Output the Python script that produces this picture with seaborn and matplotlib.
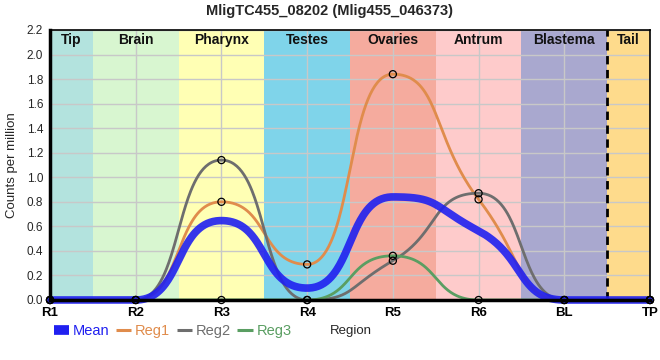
import numpy as np
import pandas as pd
import matplotlib
matplotlib.use("Agg")
import matplotlib.pyplot as plt
import seaborn as sns
from matplotlib.lines import Line2D

regions = ["R1", "R2", "R3", "R4", "R5", "R6", "BL", "TP"]
reg1 = [0.0, 0.0, 0.80, 0.29, 1.84, 0.82, 0.0, 0.0]
reg2 = [0.0, 0.0, 1.14, 0.0, 0.32, 0.87, 0.0, 0.0]
reg3 = [0.0, 0.0, 0.0, 0.0, 0.36, 0.0, 0.0, 0.0]
mean = [0.0, 0.0, 0.647, 0.097, 0.84, 0.563, 0.0, 0.0]

bands = ["Tip", "Brain", "Pharynx", "Testes", "Ovaries", "Antrum", "Blastema", "Tail"]
band_colors = ["#b3e3de", "#d8f6d0", "#ffffb4", "#7fd4ea", "#f5ab9e", "#fecbcb", "#a9a8cf", "#fedb8c"]
band_edges = [0, 0.5, 1.5, 2.5, 3.5, 4.5, 5.5, 6.5, 7]

series_names = ["Mean", "Reg1", "Reg2", "Reg3"]
series_colors = {"Mean": "#2020f0", "Reg1": "#e08c4c", "Reg2": "#6e6e6e", "Reg3": "#5a9e62"}


def tangents(x, y):
    x = np.asarray(x, float); y = np.asarray(y, float)
    h = np.diff(x); d = np.diff(y) / h
    n = len(x); m = np.zeros(n)
    for k in range(1, n - 1):
        if d[k - 1] * d[k] > 0:
            m[k] = 2 / (1 / d[k - 1] + 1 / d[k])
    return m


def smooth_curve(x, y, k=0.55, n=80):
    """Bezier path through the points, handles along monotone tangents."""
    x = np.asarray(x, float); y = np.asarray(y, float)
    m = tangents(x, y)
    t = np.linspace(0, 1, n)
    xs, ys = [], []
    for i in range(len(x) - 1):
        dx = x[i + 1] - x[i]
        p0 = (x[i], y[i]); p3 = (x[i + 1], y[i + 1])
        p1 = (x[i] + k * dx, y[i] + k * dx * m[i])
        p2 = (x[i + 1] - k * dx, y[i + 1] - k * dx * m[i + 1])
        b0 = (1 - t) ** 3; b1 = 3 * (1 - t) ** 2 * t; b2 = 3 * (1 - t) * t ** 2; b3 = t ** 3
        xs.append(b0 * p0[0] + b1 * p1[0] + b2 * p2[0] + b3 * p3[0])
        ys.append(b0 * p0[1] + b1 * p1[1] + b2 * p2[1] + b3 * p3[1])
    return np.concatenate(xs), np.concatenate(ys)


xpos = np.arange(len(regions))
values = {"Mean": mean, "Reg1": reg1, "Reg2": reg2, "Reg3": reg3}
frames = []
for s in series_names:
    cx, cy = smooth_curve(xpos, values[s])
    frames.append(pd.DataFrame({"x": cx, "y": cy, "series": s}))
smooth = pd.concat(frames, ignore_index=True)
points = pd.concat([pd.DataFrame({"x": xpos, "y": values[s], "series": s})
                    for s in ["Reg1", "Reg2", "Reg3"]], ignore_index=True)

sns.set_style("white")
plt.rcParams["font.family"] = ["Liberation Sans", "DejaVu Sans"]

fig = plt.figure(figsize=(6.6, 3.6), dpi=100)
ax = fig.add_axes([50 / 660, 60 / 360, 600 / 660, 270 / 360])

for i, (name, col) in enumerate(zip(bands, band_colors)):
    ax.axvspan(band_edges[i], band_edges[i + 1], color=col, lw=0, zorder=0)
    ax.text((band_edges[i] + band_edges[i + 1]) / 2, 2.115, name, ha="center", va="center",
            fontsize=10, fontweight="bold", color="#111111", zorder=3)
ax.axvline(6.5, color="black", lw=2, ls=(0, (3, 2)), zorder=4)

ax.set_ylim(0, 2.2)
ax.set_xlim(0, 7)
yt = np.arange(0, 2.21, 0.2)
ax.set_yticks(yt)
ax.set_yticklabels([f"{v:.1f}" for v in yt], fontsize=8.5)
ax.set_xticks(xpos)
ax.set_xticklabels(regions, fontsize=9.5, fontweight="bold")
ax.grid(True, color="#c8c8c8", lw=1)
for gl in ax.get_xgridlines() + ax.get_ygridlines():
    gl.set_zorder(1)

widths = {"Mean": 5.5, "Reg1": 2.0, "Reg2": 2.0, "Reg3": 2.0}
for s in ["Reg1", "Reg2", "Reg3", "Mean"]:
    sub = smooth[smooth.series == s]
    sns.lineplot(data=sub, x="x", y="y", ax=ax, color=series_colors[s], lw=widths[s],
                 alpha=0.9 if s == "Mean" else 1, zorder=5 if s == "Mean" else 4,
                 clip_on=False, legend=False, estimator=None, sort=False)
sns.scatterplot(data=points, x="x", y="y", ax=ax, marker="o", s=26, facecolor="none",
                edgecolor="black", linewidth=0.9, zorder=6, clip_on=False, legend=False)

ax.set_ylabel("Counts per million", fontsize=9.5, labelpad=6)
ax.set_xlabel("")
ax.tick_params(axis="x", direction="inout", length=6, width=1, pad=2, colors="black")
ax.tick_params(axis="y", direction="out", length=3, width=1, pad=2)
for side in ["left", "bottom"]:
    ax.spines[side].set_linewidth(2.5)
    ax.spines[side].set_color("black")
    ax.spines[side].set_zorder(7)
for side in ["top", "right"]:
    ax.spines[side].set_linewidth(1.2)
    ax.spines[side].set_color("black")

fig.suptitle("MligTC455_08202 (Mlig455_046373)", x=0.5, y=0.99, fontsize=10.5, fontweight="bold")

handles = [Line2D([], [], color=series_colors[s], lw=7 if s == "Mean" else 2.2,
                  solid_capstyle="butt") for s in series_names]
leg = fig.legend(handles, series_names, loc="center left", bbox_to_anchor=(54 / 660, 1 - 331 / 360),
                 ncol=4, frameon=False, fontsize=10.5, handlelength=1.05, handletextpad=0.25,
                 columnspacing=0.45, borderaxespad=0, borderpad=0)
for t, s in zip(leg.get_texts(), series_names):
    t.set_color(series_colors[s])
fig.text(330 / 660, 1 - 331 / 360, "Region", fontsize=9.5, va="center", ha="left")

fig.savefig("out.png", dpi=100)
